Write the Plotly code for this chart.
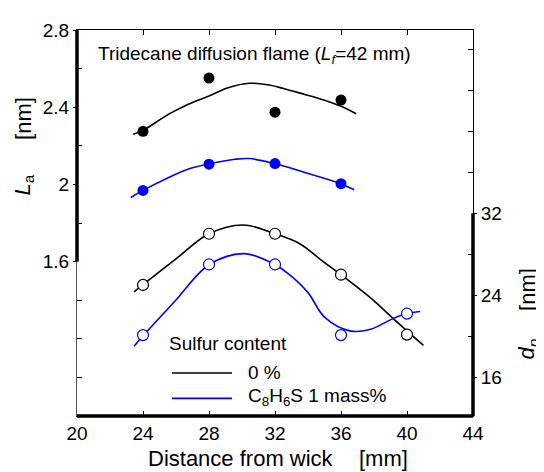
import plotly.graph_objects as go

# ---------------- data ----------------
dist = [24, 28, 32, 36]
la_0 = [2.275, 2.551, 2.374, 2.437]          # La, 0 % sulfur (filled black)
la_s = [1.969, 2.105, 2.108, 2.004]          # La, C8H6S 1 mass% (filled blue)

dist_dp = [24, 28, 32, 36, 40]
dp_0 = [25.0, 30.0, 30.0, 26.0, 20.15]       # dp, 0 % (open black)
dp_s = [20.1, 27.0, 27.0, 20.1, 22.2]        # dp, C8H6S 1 mass% (open blue)

# fitted curves
la0_cx = [23.4, 24.0, 25.56, 26.56, 27.96, 29.16, 30.46, 31.56, 32.56, 33.76, 34.96, 35.96, 36.92]
la0_cy = [2.260, 2.28, 2.364, 2.408, 2.457, 2.501, 2.524, 2.516, 2.496, 2.467, 2.437, 2.406, 2.366]
las_cx = [23.26, 24.0, 25.56, 26.76, 27.96, 29.56, 30.46, 31.96, 33.76, 35.96, 36.8]
las_cy = [1.932, 1.969, 2.036, 2.08, 2.105, 2.130, 2.134, 2.108, 2.063, 2.004, 1.972]
dp0_cx = [23.46, 24.0, 25.96, 28.0, 30.06, 32.0, 33.5, 34.8, 36.0, 38.0, 39.0, 41.0]
dp0_cy = [24.33, 25.03, 27.5, 30.0, 30.86, 30.0, 29.03, 27.43, 26.0, 23.45, 21.96, 19.09]
dps_cx = [23.46, 24.0, 25.96, 28.0, 30.16, 32.0, 32.8, 34.0, 35.0, 36.6, 37.8, 39.2, 39.96, 40.8]
dps_cy = [19.01, 20.03, 23.45, 26.97, 28.06, 26.97, 26.1, 24.25, 21.86, 20.49, 20.68, 21.76, 22.18, 22.4]

x_ticks = [20, 24, 28, 32, 36, 40, 44]
la_ticks = [1.6, 2.0, 2.4, 2.8]
la_ticktext = ["1.6", "2", "2.4", "2.8"]
la_minor = [1.0, 1.2, 1.4, 1.8, 2.2, 2.6]
dp_ticks = [16, 24, 32]
dp_minor = [20, 28, 36, 40, 44, 48]

BLUE = "#0000ff"
FONT = "Liberation Sans, Arial, sans-serif"

fig = go.Figure()
fig.add_trace(go.Scatter(x=la0_cx, y=la0_cy, mode="lines", line=dict(color="black", width=1.6, shape="spline")))
fig.add_trace(go.Scatter(x=dist, y=la_0, mode="markers", marker=dict(color="black", size=11)))
fig.add_trace(go.Scatter(x=las_cx, y=las_cy, mode="lines", line=dict(color=BLUE, width=1.6, shape="spline")))
fig.add_trace(go.Scatter(x=dist, y=la_s, mode="markers", marker=dict(color=BLUE, size=11)))
fig.add_trace(go.Scatter(x=dp0_cx, y=dp0_cy, mode="lines", yaxis="y2", line=dict(color="black", width=1.6, shape="spline")))
fig.add_trace(go.Scatter(x=dist_dp, y=dp_0, mode="markers", yaxis="y2",
                         marker=dict(color="white", size=11, line=dict(color="black", width=1.2))))
fig.add_trace(go.Scatter(x=dps_cx, y=dps_cy, mode="lines", yaxis="y2", line=dict(color=BLUE, width=1.6, shape="spline")))
fig.add_trace(go.Scatter(x=dist_dp, y=dp_s, mode="markers", yaxis="y2",
                         marker=dict(color="white", size=11, line=dict(color=BLUE, width=1.2))))

# page has an 8px body margin: work in window pixels, convert to figure pixels
OFF = 8
WIN_W, WIN_H = 544, 472
W, H = WIN_W - OFF, WIN_H - OFF
L, R, T, B = 77, 473, 21, 416          # plot area in window pixels
pw, ph = R - L, B - T


def px(X):
    return (X - L) / pw


def py(Y):
    return (B - Y) / ph


fig.update_layout(
    width=W, height=H,
    margin=dict(l=L - OFF, r=WIN_W - R, t=T - OFF, b=WIN_H - B, pad=0),
    paper_bgcolor="white", plot_bgcolor="white",
    showlegend=False,
    font=dict(family=FONT, size=19, color="black"),
    xaxis=dict(range=[20, 44], tickvals=x_ticks, ticks="inside", ticklen=5, tickwidth=1,
               tickcolor="black", showline=True, linecolor="black", linewidth=1, mirror="ticks",
               showgrid=False, zeroline=False, tickfont=dict(size=19)),
    yaxis=dict(range=[0.8, 2.8], tickvals=la_ticks, ticktext=la_ticktext, ticks="outside", ticklen=3,
               tickcolor="black", showline=True, linecolor="#555555", linewidth=1,
               showgrid=False, zeroline=False, tickfont=dict(size=19),
               minor=dict(tickmode="array", tickvals=la_minor, ticks="inside", ticklen=5, tickcolor="black")),
    yaxis2=dict(range=[12.2, 49.9], overlaying="y", side="right", tickvals=dp_ticks, ticks="outside",
                ticklen=3, tickcolor="black", showline=True, linecolor="black", linewidth=1,
                showgrid=False, zeroline=False, tickfont=dict(size=19),
                minor=dict(tickmode="array", tickvals=dp_minor, ticks="inside", ticklen=5, tickcolor="black")),
)

# thick axis segments
fig.add_shape(type="line", xref="paper", yref="paper", x0=0, x1=1, y0=0, y1=0, line=dict(color="black", width=3.5))
fig.add_shape(type="line", xref="paper", yref="y", x0=0, x1=0, y0=1.6, y1=2.8, line=dict(color="black", width=3.5))
fig.add_shape(type="line", xref="paper", yref="y2", x0=1, x1=1, y0=12.2, y1=32, line=dict(color="black", width=3.5))

# legend
fig.add_annotation(xref="paper", yref="paper", x=px(167), y=py(342), text="Sulfur content",
                   showarrow=False, xanchor="left", yanchor="middle", font=dict(size=19))
fig.add_shape(type="line", xref="paper", yref="paper", x0=px(172), x1=px(232), y0=py(372), y1=py(372),
              line=dict(color="black", width=1.6))
fig.add_annotation(xref="paper", yref="paper", x=px(246), y=py(371), text="0 %",
                   showarrow=False, xanchor="left", yanchor="middle", font=dict(size=19))
fig.add_shape(type="line", xref="paper", yref="paper", x0=px(172), x1=px(232), y0=py(398), y1=py(398),
              line=dict(color=BLUE, width=1.6))
fig.add_annotation(xref="paper", yref="paper", x=px(246), y=py(397), text="C<sub>8</sub>H<sub>6</sub>S 1 mass%",
                   showarrow=False, xanchor="left", yanchor="middle", font=dict(size=19))

# title inside plot
fig.add_annotation(xref="paper", yref="paper", x=px(96), y=py(47),
                   text="Tridecane diffusion flame (<i>L</i><sub><i>f</i></sub>=42 mm)",
                   showarrow=False, xanchor="left", yanchor="middle", font=dict(size=19))

# axis titles
fig.add_annotation(xref="paper", yref="paper", x=px(241), y=py(460), text="Distance from wick",
                   showarrow=False, xanchor="center", yanchor="middle", font=dict(size=22))
fig.add_annotation(xref="paper", yref="paper", x=px(383), y=py(460), text="[mm]",
                   showarrow=False, xanchor="center", yanchor="middle", font=dict(size=22))
fig.add_annotation(xref="paper", yref="paper", x=px(24), y=py(112), text="[nm]", textangle=-90,
                   showarrow=False, xanchor="center", yanchor="middle", font=dict(size=22))
fig.add_annotation(xref="paper", yref="paper", x=px(24), y=py(180), text="<i>L</i><sub>a</sub>", textangle=-90,
                   showarrow=False, xanchor="center", yanchor="middle", font=dict(size=22))
fig.add_annotation(xref="paper", yref="paper", x=px(528), y=py(287), text="[nm]", textangle=-90,
                   showarrow=False, xanchor="center", yanchor="middle", font=dict(size=22))
fig.add_annotation(xref="paper", yref="paper", x=px(528), y=py(348), text="<i>d</i><sub><i>p</i></sub>", textangle=-90,
                   showarrow=False, xanchor="center", yanchor="middle", font=dict(size=22))

fig.write_html("out.html")
